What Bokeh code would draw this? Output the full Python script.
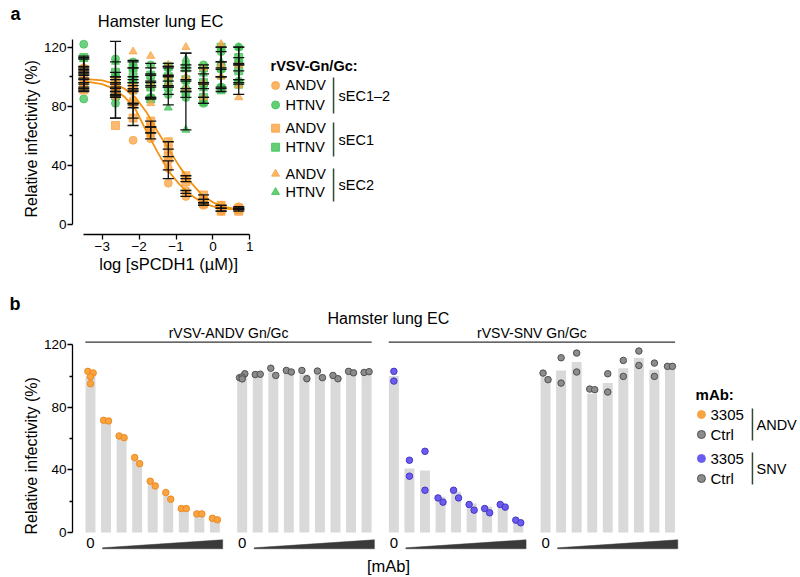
import numpy as np
from bokeh.plotting import figure
from bokeh.models import Range1d, FixedTicker, Label, LinearAxis
from bokeh.layouts import column
from bokeh.embed import file_html
from bokeh.resources import INLINE

FONT = "Liberation Sans"
ORANGE = "#F9A341"
GREEN = "#3DC254"
BLUE = "#6B5CF0"
GRAY = "#8C8C8C"
BARC = "#D9D9D9"

# ---------------- Panel a data ----------------
conc_uM = [0.000316, 0.00229, 0.00686, 0.0206, 0.0617, 0.185, 0.556, 1.667, 5.0]
log_conc = list(np.log10(conc_uM))

andv_sec12_mean = [99, 90, 79, 62, 37, 21, 15, 11, 11]
andv_sec12_sd = [7, 3, 12, 4, 6, 2, 2, 2, 1]
andv_sec12_reps = [[93, 99, 106], [87, 90, 93], [57, 84, 93], [58, 62, 66], [28, 38, 43],
                   [19, 21, 23], [13, 15, 17], [9, 11, 13], [10, 11, 12]]

htnv_sec12_mean = [102, 98, 96, 96, 97, 97, 95, 105, 109]
htnv_sec12_sd = [12, 26, 14, 10, 9, 11, 13, 12, 11]
htnv_sec12_reps = [[122, 98, 85], [112, 100, 82], [110, 96, 82], [108, 96, 86], [106, 98, 88],
                   [108, 98, 86], [108, 94, 82], [117, 105, 93], [120, 110, 97]]

andv_sec1_mean = [98, 86, 82, 66, 51, 31, 17, 11, 10]
andv_sec1_sd = [7, 14, 10, 4, 5, 2, 3, 2, 1]
andv_sec1_reps = [[91, 98, 105], [67, 93, 97], [72, 82, 92], [62, 66, 70], [46, 51, 56],
                  [29, 31, 33], [14, 17, 20], [9, 11, 13], [9, 10, 11]]

htnv_sec1_mean = [103, 95, 100, 93, 100, 98, 96, 106, 104]
htnv_sec1_sd = [10, 8, 6, 8, 7, 8, 10, 14, 9]
htnv_sec1_reps = [[113, 103, 93], [103, 95, 87], [106, 100, 94], [101, 93, 85], [107, 100, 93],
                  [106, 98, 90], [106, 96, 86], [120, 106, 92], [113, 104, 95]]

andv_sec2_mean = [101, 92, 96, 97, 101, 104, 96, 110, 98]
andv_sec2_sd = [6, 4, 15, 12, 8, 12, 10, 10, 10]
andv_sec2_reps = [[95, 101, 107], [88, 92, 96], [117, 90, 81], [114, 95, 82], [108, 100, 95],
                  [120, 100, 92], [106, 96, 86], [122, 108, 100], [108, 94, 86]]

htnv_sec2_mean = [104, 100, 98, 94, 94, 90, 92, 100, 108]
htnv_sec2_sd = [8, 10, 8, 8, 13, 26, 10, 10, 12]
htnv_sec2_reps = [[112, 104, 96], [110, 100, 90], [106, 98, 90], [102, 94, 86], [107, 96, 79],
                  [112, 94, 64], [102, 92, 82], [110, 100, 90], [120, 108, 96]]

# fitted curves
curve_x = [-3.5, -3.0, -2.7, -2.4, -2.1, -1.8, -1.5, -1.2, -0.9, -0.6, -0.3, 0.0, 0.3, 0.7]
curve_sec1 = [98.5, 97.5, 95.5, 92, 86, 76, 63, 51, 39, 28.5, 20, 15, 12, 10.3]
curve_sec12 = [97, 95, 92, 86.5, 78, 63, 49, 36, 27, 20, 15, 12.3, 10.8, 10]

a_yticks = [0, 40, 80, 120]
a_yminor = [20, 60, 100]
a_xticks = [-3, -2, -1, 0, 1]

# ---------------- Panel b data ----------------
andv_3305_bar = [100, 71.5, 61, 46, 31, 23.5, 15.3, 12, 8.6]
andv_3305_pts = [[103, 102, 99.6, 95.1], [71.7, 71.3], [61.7, 60.6], [47.9, 44], [32.8, 29.8],
                 [25.5, 21.3], [15.3, 15.3], [11.9, 11.9], [9.1, 8.1]]
andv_ctrl_bar = [100, 100.5, 102.5, 103, 101, 101, 99.5, 102.5, 102.5]
andv_ctrl_pts = [[99, 101.5, 99.5, 98.2], [101, 101.2], [105, 100.4], [103.6, 102.6], [103.6, 98.3],
                 [103.2, 99], [100.4, 98.3], [103, 102.1], [102.3, 102.8]]
snv_3305_bar = [100, 40.9, 39.6, 22.8, 26, 18.5, 16.4, 18.5, 6.8]
snv_3305_pts = [[103, 96.8], [46.2, 36], [51.9, 27], [22.1, 19.4], [27, 22.1],
                [17.9, 14.3], [15.3, 12.6], [17.9, 16.2], [7.9, 6.2]]
snv_ctrl_bar = [99.8, 103.6, 109, 88.7, 95.5, 105, 111.5, 104, 106]
snv_ctrl_pts = [[101.9, 97.7], [111.7, 95.5], [114.7, 102.6], [91.7, 91.3], [101.5, 89.8],
                [110, 99.8], [116, 106.8], [108.3, 99.8], [106.2, 106.2]]

b_yticks = [0, 40, 80, 120]
b_yminor = [20, 60, 100]


def style_axis(ax):
    ax.axis_line_color = "black"
    ax.axis_line_width = 1.3
    ax.major_tick_line_color = "black"
    ax.major_tick_line_width = 1.3
    ax.minor_tick_line_color = "black"
    ax.minor_tick_line_width = 1.3
    ax.major_tick_out = 5
    ax.major_tick_in = 0
    ax.minor_tick_out = 3
    ax.minor_tick_in = 0
    ax.major_label_text_font = FONT
    ax.major_label_text_font_size = "13.5px"
    ax.major_label_text_color = "black"
    ax.major_label_standoff = 1


def text_axis(p, side, pos, text, size, bold=False, vertical=False, standoff=0):
    """An axis with no line and no ticks, used only to carry one text outside the frame."""
    ax = LinearAxis(ticker=FixedTicker(ticks=[pos], minor_ticks=[]),
                    major_label_overrides={pos: text})
    ax.axis_line_color = None
    ax.major_tick_line_color = None
    ax.minor_tick_line_color = None
    ax.major_tick_out = 0
    ax.major_tick_in = 0
    ax.minor_tick_out = 0
    ax.minor_tick_in = 0
    ax.major_label_standoff = standoff
    ax.major_label_text_font = FONT
    ax.major_label_text_font_size = size
    ax.major_label_text_color = "black"
    ax.major_label_text_font_style = "bold" if bold else "normal"
    if vertical:
        ax.major_label_orientation = "vertical"
    p.add_layout(ax, side)


def add_label(p, x, y, text, size="14px", align="left", baseline="middle", bold=False):
    p.add_layout(Label(x=x, y=y, text=text, text_font=FONT, text_font_size=size,
                       text_align=align, text_baseline=baseline,
                       text_font_style="bold" if bold else "normal", text_color="black"))


# ================= Figure a =================
pa = figure(width=800, height=290, x_range=Range1d(-3.805, 15.92), y_range=Range1d(-6.77, 151.6),
            output_backend="svg", toolbar_location=None,
            min_border_left=72, min_border_right=0, min_border_top=0, min_border_bottom=56)
pa.xgrid.visible = False
pa.ygrid.visible = False
pa.outline_line_color = None
style_axis(pa.yaxis[0])
style_axis(pa.xaxis[0])
pa.xaxis[0].major_label_standoff = 2
pa.yaxis[0].ticker = FixedTicker(ticks=a_yticks, minor_ticks=a_yminor)
pa.yaxis[0].bounds = (0, 125)
pa.xaxis[0].ticker = FixedTicker(ticks=a_xticks, minor_ticks=[])
pa.xaxis[0].bounds = (-3.5, 1)

text_axis(pa, "left", 58, "Relative infectivity (%)", "16px", vertical=True, standoff=0)
text_axis(pa, "left", 147, "a", "18px", bold=True, standoff=0)
text_axis(pa, "below", -1.2, "log [sPCDH1 (\u00b5M)]", "16.5px", standoff=1)

series = [
    (andv_sec12_mean, andv_sec12_sd, andv_sec12_reps, "circle", ORANGE),
    (htnv_sec12_mean, htnv_sec12_sd, htnv_sec12_reps, "circle", GREEN),
    (andv_sec1_mean, andv_sec1_sd, andv_sec1_reps, "square", ORANGE),
    (htnv_sec1_mean, htnv_sec1_sd, htnv_sec1_reps, "square", GREEN),
    (andv_sec2_mean, andv_sec2_sd, andv_sec2_reps, "triangle", ORANGE),
    (htnv_sec2_mean, htnv_sec2_sd, htnv_sec2_reps, "triangle", GREEN),
]

# replicate points: green first then orange
for order_color in (GREEN, ORANGE):
    for mean, sd, reps, marker, color in series:
        if color != order_color:
            continue
        xs, ys = [], []
        for xc, r in zip(log_conc, reps):
            for v in r:
                xs.append(xc)
                ys.append(v)
        pa.scatter(xs, ys, marker=marker, size=8, fill_color=color, line_color=color,
                   fill_alpha=0.75, line_alpha=0.75)

pa.line(curve_x, curve_sec1, line_color="#F39212", line_width=1.8)
pa.line(curve_x, curve_sec12, line_color="#F39212", line_width=1.8)

# error bars (mean +/- SD)
cap = 0.15
x0, y0, x1, y1 = [], [], [], []
for mean, sd, reps, marker, color in series:
    for xc, m, s in zip(log_conc, mean, sd):
        x0 += [xc, xc - cap, xc - cap, xc - cap]
        x1 += [xc, xc + cap, xc + cap, xc + cap]
        y0 += [m - s, m - s, m + s, m]
        y1 += [m + s, m - s, m + s, m]
pa.segment(x0, y0, x1, y1, line_color="#111111", line_width=1.3)

add_label(pa, -1.42, 137.4, "Hamster lung EC", size="16.5px", align="center")

# legend panel a
add_label(pa, 1.561, 107.6, "rVSV-Gn/Gc:", size="14.5px", bold=True)
leg_y = [94.1, 80.9, 65.2, 52.3, 34.3, 21.9]
leg_names = ["ANDV", "HTNV", "ANDV", "HTNV", "ANDV", "HTNV"]
for (mean, sd, reps, marker, color), ly, nm in zip(series, leg_y, leg_names):
    pa.scatter([1.697], [ly], marker=marker, size=8, fill_color=color, line_color=color,
               fill_alpha=0.8, line_alpha=0.8)
    add_label(pa, 1.967, ly, nm, size="14.5px")
br_top = [99.5, 69, 37.9]
br_bot = [75.1, 46, 15.6]
br_lab_y = [87.3, 57.5, 26.4]
br_names = ["sEC1\u20132", "sEC1", "sEC2"]
pa.segment([3.268] * 3, br_bot, [3.268] * 3, br_top, line_color="#2f4a33", line_width=1.5)
for ly, nm in zip(br_lab_y, br_names):
    add_label(pa, 3.404, ly, nm, size="14.5px")

# ================= Figure b =================
pb = figure(width=800, height=287, x_range=Range1d(-1.158, 45.66), y_range=Range1d(-28.77, 154.7),
            output_backend="svg", toolbar_location=None, x_axis_location=None,
            min_border_left=72, min_border_right=0, min_border_top=0, min_border_bottom=0)
pb.xgrid.visible = False
pb.ygrid.visible = False
pb.outline_line_color = None
style_axis(pb.yaxis[0])
pb.yaxis[0].ticker = FixedTicker(ticks=b_yticks, minor_ticks=b_yminor)
pb.yaxis[0].bounds = (0, 120)

text_axis(pb, "left", 49, "Relative infectivity (%)", "16px", vertical=True, standoff=0)
text_axis(pb, "left", 146, "b", "18px", bold=True, standoff=0)

GSTEP = 9.755
groups = [
    (andv_3305_bar, andv_3305_pts, ORANGE, "#EE8A1E"),
    (andv_ctrl_bar, andv_ctrl_pts, GRAY, "#505050"),
    (snv_3305_bar, snv_3305_pts, BLUE, "#4636C4"),
    (snv_ctrl_bar, snv_ctrl_pts, GRAY, "#505050"),
]
for g, (bars, pts, fc, lc) in enumerate(groups):
    gx = g * GSTEP
    bx = [gx + i for i in range(len(bars))]
    pb.vbar(x=bx, top=bars, bottom=0, width=0.64, fill_color=BARC, line_color=None)
    px, py = [], []
    for i, vals in enumerate(pts):
        n = len(vals)
        if n == 4:
            offs = [-0.17, 0.17, 0.0, 0.0]
        elif abs(vals[0] - vals[1]) < 5.5:
            offs = [-0.16, 0.16]
        else:
            offs = [0.0, 0.0]
        for o, v in zip(offs, vals):
            px.append(gx + i + o)
            py.append(v)
    pb.scatter(px, py, size=6.5, fill_color=fc, line_color=lc, line_width=1)
    # "0" label and concentration wedge
    add_label(pb, gx, -7.0, "0", size="15px", align="center")
    pb.patch([gx + 0.77, gx + 8.5, gx + 8.5, gx + 0.77], [-10.4, -10.4, -4.67, -9.8],
             fill_color="#3a3a3a", line_color="#3a3a3a", line_width=0.5)

# group header lines
for k, name in enumerate(["rVSV-ANDV Gn/Gc", "rVSV-SNV Gn/Gc"]):
    xa = 2 * k * GSTEP - 0.33
    xb = (2 * k + 1) * GSTEP + 8 + 0.33
    pb.segment([xa], [121.7], [xb], [121.7], line_color="#333333", line_width=1.3)
    add_label(pb, (xa + xb) / 2, 127.6, name, size="14px", align="center")

add_label(pb, 19.16, 136.8, "Hamster lung EC", size="16px", align="center")
add_label(pb, 19.16, -21.7, "[mAb]", size="16.5px", align="center")

# legend panel b
add_label(pb, 38.91, 88.2, "mAb:", size="15px", bold=True)
lb_y = [75.4, 62.65, 47.3, 34.5]
lb_names = ["3305", "Ctrl", "3305", "Ctrl"]
for (bars, pts, fc, lc), ly, nm in zip(groups, lb_y, lb_names):
    pb.scatter([39.29], [ly], size=8, fill_color=fc, line_color=lc if fc == GRAY else fc, line_width=1)
    add_label(pb, 39.87, ly, nm, size="15px")
pb.segment([42.57, 42.57], [58.8, 30.7], [42.57, 42.57], [79.3, 51.1], line_color="#2f4a33", line_width=1.5)
add_label(pb, 42.83, 69.0, "ANDV", size="14.5px")
add_label(pb, 42.83, 40.9, "SNV", size="14.5px")

layout = column(pa, pb)
open("out.html", "w").write(file_html(layout, INLINE))
